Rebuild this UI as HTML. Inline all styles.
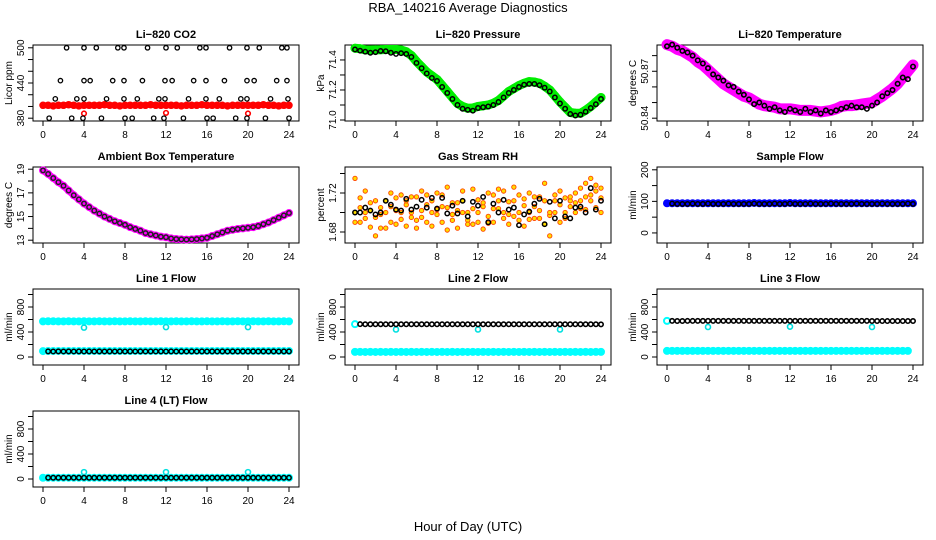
<!DOCTYPE html>
<html><head><meta charset="utf-8">
<style>
html,body{margin:0;padding:0;background:#fff;}
svg{display:block;font-family:"Liberation Sans",Arial,sans-serif;}
</style></head>
<body>
<svg id="chart" width="936" height="540" viewBox="0 0 936 540">
<text x="468" y="12" font-size="13" text-anchor="middle">RBA_140216  Average Diagnostics</text>
<text x="468" y="531" font-size="13" text-anchor="middle">Hour of Day (UTC)</text>
</svg>
<script>
// shared categories (hours, half-hour steps)
const hours = [0,0.5,1,1.5,2,2.5,3,3.5,4,4.5,5,5.5,6,6.5,7,7.5,8,8.5,9,9.5,10,10.5,11,11.5,12,12.5,13,13.5,14,14.5,15,15.5,16,16.5,17,17.5,18,18.5,19,19.5,20,20.5,21,21.5,22,22.5,23,23.5,24];
const xTicks = [0,4,8,12,16,20,24];
const outlierHours = [4,12,20];

// CO2
const co2Red = [402,402,401,402,402,403,402,401,402,402,402,402,403,402,402,401,402,402,402,402,402,403,402,402,402,402,402,401,402,402,402,403,402,402,402,402,401,402,402,402,402,402,402,403,402,402,401,402,402];
const co2RedOut = [388,389,388];
const co2BlackT = [2.3,4.0,5.2,7.3,7.9,10.2,12.0,13.1,15.3,15.9,18.2,19.9,21.1,23.3,23.8, 1.7,4.0,4.6,6.8,7.9,9.7,11.9,12.6,14.7,15.9,17.7,19.9,20.6,22.8,23.8, 1.2,3.3,4.0,6.2,7.9,9.2,11.3,11.9,14.2,15.9,17.2,19.3,19.9,22.2,23.9, 0.6,2.8,3.9,5.7,8.0,8.7,10.8,11.8,13.7,16.0,16.6,18.8,19.9,21.7,24.0];
const co2BlackV = [500,500,500,500,500,500,500,500,500,500,500,500,500,500,500, 444,444,444,444,444,444,444,444,444,444,444,444,444,444,444, 413,413,413,413,413,413,413,413,413,413,413,413,413,413,413, 380,380,380,380,380,380,380,380,380,380,380,380,380,380,380];

// Pressure
const presGreen = [71.478,71.475,71.467,71.466,71.467,71.468,71.47,71.47,71.47,71.466,71.455,71.43,71.39,71.355,71.32,71.295,71.27,71.23,71.19,71.15,71.11,71.09,71.078,71.08,71.09,71.095,71.1,71.112,71.13,71.16,71.19,71.21,71.23,71.245,71.256,71.253,71.245,71.225,71.2,71.16,71.12,71.085,71.05,71.045,71.045,71.065,71.09,71.12,71.15];
const presBlack = [71.47,71.462,71.455,71.448,71.452,71.46,71.458,71.448,71.44,71.445,71.44,71.42,71.38,71.345,71.31,71.28,71.26,71.22,71.18,71.14,71.1,71.075,71.068,71.062,71.08,71.085,71.09,71.1,71.12,71.15,71.18,71.2,71.22,71.235,71.24,71.24,71.232,71.215,71.19,71.15,71.11,71.075,71.04,71.03,71.035,71.055,71.08,71.105,71.14];

// Li-820 temperature
const ltMag = [50.887,50.886,50.884,50.883,50.881,50.879,50.876,50.874,50.871,50.868,50.865,50.862,50.860,50.858,50.856,50.854,50.853,50.851,50.849,50.848,50.8475,50.847,50.846,50.846,50.846,50.8455,50.845,50.845,50.845,50.8445,50.844,50.8445,50.845,50.846,50.8475,50.848,50.848,50.8485,50.849,50.8495,50.850,50.852,50.854,50.8565,50.859,50.862,50.866,50.870,50.874];
const ltBlack = [50.886,50.887,50.885,50.883,50.882,50.880,50.877,50.875,50.872,50.868,50.866,50.864,50.861,50.860,50.857,50.855,50.852,50.849,50.850,50.848,50.846,50.847,50.845,50.844,50.846,50.845,50.844,50.846,50.844,50.845,50.843,50.845,50.844,50.845,50.846,50.847,50.848,50.847,50.847,50.846,50.848,50.850,50.854,50.856,50.858,50.862,50.866,50.865,50.873];

// Ambient box temperature
const ambMag = [18.9,18.6,18.25,17.9,17.6,17.2,16.8,16.45,16.1,15.8,15.5,15.25,15.0,14.8,14.6,14.45,14.3,14.1,13.95,13.8,13.6,13.5,13.4,13.3,13.25,13.15,13.1,13.07,13.05,13.07,13.1,13.15,13.2,13.35,13.5,13.65,13.8,13.88,13.95,14.0,14.05,14.1,14.2,14.35,14.5,14.7,14.9,15.1,15.3];

// Gas stream RH
const rhOrangeA = [1.735,1.715,1.700,1.710,1.695,1.705,1.712,1.690,1.715,1.700,1.708,1.695,1.716,1.702,1.690,1.712,1.698,1.718,1.705,1.692,1.710,1.722,1.700,1.688,1.713,1.706,1.696,1.718,1.704,1.694,1.711,1.726,1.700,1.707,1.693,1.716,1.702,1.730,1.697,1.712,1.690,1.715,1.706,1.720,1.712,1.730,1.718,1.728,1.715];
const rhOrangeB = [1.700,1.690,1.722,1.685,1.712,1.684,1.700,1.720,1.688,1.718,1.686,1.716,1.692,1.722,1.708,1.686,1.720,1.690,1.726,1.710,1.684,1.700,1.692,1.724,1.690,1.683,1.720,1.690,1.712,1.722,1.688,1.696,1.718,1.686,1.720,1.694,1.716,1.688,1.676,1.700,1.722,1.694,1.712,1.700,1.725,1.703,1.735,1.705,1.725];
const rhOrangeC = [1.690,1.705,1.694,1.702,1.676,1.698,1.684,1.706,1.702,1.693,1.712,1.700,1.684,1.695,1.718,1.700,1.703,1.706,1.682,1.698,1.702,1.712,1.688,1.704,1.700,1.710,1.689,1.704,1.724,1.700,1.698,1.712,1.692,1.714,1.700,1.706,1.694,1.712,1.700,1.718,1.708,1.700,1.716,1.710,1.704,1.716,1.712,1.722,1.700];
const rhBlack = [1.700,1.700,1.705,1.702,1.698,1.700,1.712,1.708,1.703,1.702,1.714,1.703,1.706,1.713,1.705,1.715,1.704,1.715,1.699,1.707,1.699,1.712,1.696,1.711,1.707,1.716,1.690,1.709,1.700,1.713,1.703,1.705,1.687,1.698,1.701,1.709,1.714,1.688,1.711,1.694,1.712,1.696,1.694,1.705,1.706,1.700,1.725,1.703,1.712];

// Sample flow
const sfBlue = [94,94,94,94,94,94,94,94,94,94,94,94,94,94,94,94,94,95,94,94,94,94,94,94,95,94,94,94,94,94,94,94,94,94,94,94,94,94,94,94,94,94,94,94,94,94,94,94,94];
const sfBlack = [93,93,92,92,92,93,92,92,93,92,92,92,93,92,92,92,92,93,92,92,92,93,92,92,93,92,92,92,93,92,92,92,93,92,92,92,92,93,92,92,92,92,93,92,92,92,92,93,92];

// Line flows
const l1CyanHi = [570,572,571,570,570,571,570,570,571,570,570,571,570,570,571,570,570,571,570,570,571,570,570,571,570,570,571,570,570,571,570,570,571,570,570,571,570,570,571,570,570,571,570,570,571,570,570,571,570];
const l1CyanOut = [470,478,478];
const l1CyanLo = [95,96,96,97,97,96,97,96,97,96,97,96,97,96,97,96,97,96,97,96,97,96,97,96,97,96,97,96,97,96,97,96,97,96,97,96,97,96,97,96,97,96,97,96,97,96,97,96,97];
const l1Black = [90,90,89,90,89,90,89,90,89,90,89,90,89,90,89,90,89,90,89,90,89,90,89,90,89,90,89,90,89,90,89,90,89,90,89,90,89,90,89,90,89,90,89,90,89,90,89,90,90];
const l2Black = [530,525,524,524,524,524,524,524,524,524,524,524,524,524,524,524,524,524,524,524,524,524,524,524,524,524,524,524,524,524,524,524,524,524,524,524,524,524,524,524,524,524,524,524,524,524,524,524,522];
const l2CyanOut = [440,440,440];
const l2CyanLo = [82,82,81,82,81,82,81,82,81,82,81,82,81,82,81,82,81,82,81,82,81,82,81,82,81,82,81,82,81,82,81,82,81,82,81,82,81,82,81,82,81,82,81,82,81,82,81,82,82];
const l3Black = [578,578,576,576,577,577,578,578,578,578,578,578,578,578,578,578,578,578,578,578,578,578,578,578,578,578,578,578,578,578,578,578,578,578,578,578,578,578,578,578,576,576,575,575,575,575,575,575,576];
const l3CyanOut = [480,485,480];
const l3CyanLo = [98,98,98,98,98,98,98,98,98,98,98,98,98,98,98,98,98,98,98,98,98,98,98,98,98,98,98,98,98,98,98,98,98,98,98,98,98,98,98,98,98,98,98,98,98,98,98,98,98];
const l4Black = [20,20,20,20,20,20,20,20,20,20,20,20,20,20,20,20,20,20,20,20,20,20,20,20,20,20,20,20,20,20,20,20,20,20,20,20,20,20,20,20,20,20,20,20,20,20,20,20,20];
const l4CyanOut = [110,110,110];

const NS = 'http://www.w3.org/2000/svg';
const svg = document.getElementById('chart');
function mk(tag, attrs, parent){const e=document.createElementNS(NS,tag);for(const k in attrs)e.setAttribute(k,attrs[k]);(parent||svg).appendChild(e);return e;}

function panel(cfg){
  const ox = cfg.col*312, oy = cfg.row*122;
  const g = mk('g',{});
  
  
  const left=ox+33, right=ox+299, top=oy+45, bottom=oy+121;
  const xs = h => ox+43+h*10.25;
  const [lo,hi]=cfg.ylim;
  const ys = v => oy+118.2-(v-lo)/(hi-lo)*70.4;
  const box = mk('rect',{x:left,y:top,width:right-left,height:bottom-top,fill:'none',stroke:'#000','stroke-width':1},g);
  
  
  const t = mk('text',{x:(left+right)/2,y:oy+38,'font-size':11,'font-weight':'bold','text-anchor':'middle'},g);
  t.textContent=cfg.title;
  
  
  xTicks.forEach(h=>{
    mk('line',{x1:xs(h),x2:xs(h),y1:bottom,y2:bottom+5,stroke:'#000'},g);
    const l=mk('text',{x:xs(h),y:bottom+17,'font-size':10,'text-anchor':'middle'},g);
    l.textContent=h;
    
    
  });
  cfg.ticks.forEach(v=>{
    mk('line',{x1:left-5,x2:left,y1:ys(v),y2:ys(v),stroke:'#000'},g);
  });
  cfg.labels.forEach(v=>{
    const l=mk('text',{x:0,y:0,'font-size':10,'text-anchor':'middle',transform:`translate(${left-9},${ys(v)}) rotate(-90)`},g);
    l.textContent=v;
    
    
  });
  const yl=mk('text',{x:0,y:0,'font-size':10,'text-anchor':'middle',transform:`translate(${ox+12},${oy+83}) rotate(-90)`},g);
  yl.textContent=cfg.ylab;
  
  
  cfg.series.forEach(s=>{
    const sg=mk('g',{},g);
    
    
    if(s.line){
      const pts=s.t.map((h,i)=>xs(h)+','+ys(s.v[i])).join(' ');
      mk('polyline',{points:pts,fill:'none',stroke:s.color,'stroke-width':s.line,'stroke-linejoin':'round','stroke-linecap':'round'},sg);
    }
    s.t.forEach((h,i)=>{
      const c=mk('circle',{cx:xs(h),cy:ys(s.v[i]),r:s.r||2.2,fill:s.fill||'none',stroke:s.color,'stroke-width':s.sw||1.3},sg);
      
      
    });
  });
}

const fTicks=[0,200,400,600,800,1000], fLabels=[0,400,800], fLim=[-83,1043];
panel({name:'co2-panel',col:0,row:0,title:'Li\u2212820 CO2',ylab:'Licor ppm',ylim:[380,500],ticks:[380,400,420,440,460,480,500],labels:[380,440,500],
  series:[{name:'co2-red',t:hours,v:co2Red,color:'#ff0000',r:2.5,sw:2.5,line:6},{name:'co2-red-out',t:outlierHours,v:co2RedOut,color:'#ff0000',r:2.3,sw:1.6},{name:'co2-black',t:co2BlackT,v:co2BlackV,color:'#000'}]});
panel({name:'pressure-panel',col:1,row:0,title:'Li\u2212820 Pressure',ylab:'kPa',ylim:[71.012,71.481],ticks:[71.0,71.1,71.2,71.3,71.4],labels:['71.0','71.2','71.4'],
  series:[{name:'pressure-green',t:hours,v:presGreen,color:'#00ee00',r:3,sw:3,line:9},{name:'pressure-black',t:hours,v:presBlack,color:'#000',sw:1.5}]});
panel({name:'li-temp-panel',col:2,row:0,title:'Li\u2212820 Temperature',ylab:'degrees C',ylim:[50.84,50.885],ticks:[50.84,50.85,50.86,50.87,50.88],labels:['50.84','50.87'],
  series:[{name:'li-temp-magenta',t:hours,v:ltMag,color:'#ff00ff',r:3.5,sw:3,line:11},{name:'li-temp-black',t:hours,v:ltBlack,color:'#000',sw:1.6}]});
panel({name:'ambient-panel',col:0,row:1,title:'Ambient Box Temperature',ylab:'degrees C',ylim:[13.0,18.95],ticks:[13,14,15,16,17,18,19],labels:[13,15,17,19],
  series:[{name:'ambient-magenta',t:hours,v:ambMag,color:'#ff00ff',r:3,sw:2,line:7},{name:'ambient-black',t:hours,v:ambMag,color:'#222',sw:1.5}]});
panel({name:'rh-panel',col:1,row:1,title:'Gas Stream RH',ylab:'percent',ylim:[1.6716,1.7438],ticks:[1.68,1.70,1.72,1.74],labels:['1.68','1.72'],
  series:[{name:'rh-orange-a',t:hours,v:rhOrangeA,color:'#ff4400',fill:'#ffdd00',r:2.2,sw:0.9},{name:'rh-orange-b',t:hours,v:rhOrangeB,color:'#ff4400',fill:'#ffdd00',r:2.2,sw:0.9},{name:'rh-orange-c',t:hours,v:rhOrangeC,color:'#ff4400',fill:'#ffdd00',r:2.2,sw:0.9},{name:'rh-black',t:hours,v:rhBlack,color:'#000',sw:1.5}]});
panel({name:'sample-flow-panel',col:2,row:1,title:'Sample Flow',ylab:'ml/min',ylim:[-23,200],ticks:[0,50,100,150,200],labels:[0,100,200],
  series:[{name:'sample-blue',t:hours,v:sfBlue,color:'#0000ff',r:3,sw:2,line:6},{name:'sample-black',t:hours.slice(1),v:sfBlack.slice(1),color:'#000',sw:1.5}]});
panel({name:'line1-panel',col:0,row:2,title:'Line 1 Flow',ylab:'ml/min',ylim:fLim,ticks:fTicks,labels:fLabels,
  series:[{name:'line1-cyan-high',t:hours,v:l1CyanHi,color:'#00ffff',r:3,sw:2,line:6},{name:'line1-cyan-out',t:outlierHours,v:l1CyanOut,color:'#00e0e0',r:2.5,sw:1.6},{name:'line1-cyan-low',t:hours,v:l1CyanLo,color:'#00ffff',r:3,sw:2,line:5},{name:'line1-black',t:hours.slice(1),v:l1Black.slice(1),color:'#000',sw:1.5}]});
panel({name:'line2-panel',col:1,row:2,title:'Line 2 Flow',ylab:'ml/min',ylim:fLim,ticks:fTicks,labels:fLabels,
  series:[{name:'line2-cyan-low',t:hours,v:l2CyanLo,color:'#00ffff',r:3,sw:2,line:6},{name:'line2-cyan-start',t:[0],v:[525],color:'#00ffff',r:3,sw:2},{name:'line2-cyan-out',t:outlierHours,v:l2CyanOut,color:'#00e0e0',r:2.5,sw:1.6},{name:'line2-black',t:hours.slice(1),v:l2Black.slice(1),color:'#000',sw:1.6}]});
panel({name:'line3-panel',col:2,row:2,title:'Line 3 Flow',ylab:'ml/min',ylim:fLim,ticks:fTicks,labels:fLabels,
  series:[{name:'line3-cyan-low',t:hours.slice(0,48),v:l3CyanLo.slice(0,48),color:'#00ffff',r:3,sw:2,line:6},{name:'line3-cyan-start',t:[0],v:[578],color:'#00ffff',r:3,sw:2},{name:'line3-cyan-out',t:outlierHours,v:l3CyanOut,color:'#00e0e0',r:2.5,sw:1.6},{name:'line3-black',t:hours.slice(1),v:l3Black.slice(1),color:'#000',sw:1.6}]});
panel({name:'line4-panel',col:0,row:3,title:'Line 4 (LT) Flow',ylab:'ml/min',ylim:fLim,ticks:fTicks,labels:fLabels,
  series:[{name:'line4-cyan',t:hours,v:l4Black,color:'#00ffff',r:3,sw:2,line:5},{name:'line4-cyan-out',t:outlierHours,v:l4CyanOut,color:'#00e0e0',r:2.5,sw:1.6},{name:'line4-black',t:hours.slice(1),v:l4Black.slice(1),color:'#000',sw:1.5}]});
</script>
</body></html>
